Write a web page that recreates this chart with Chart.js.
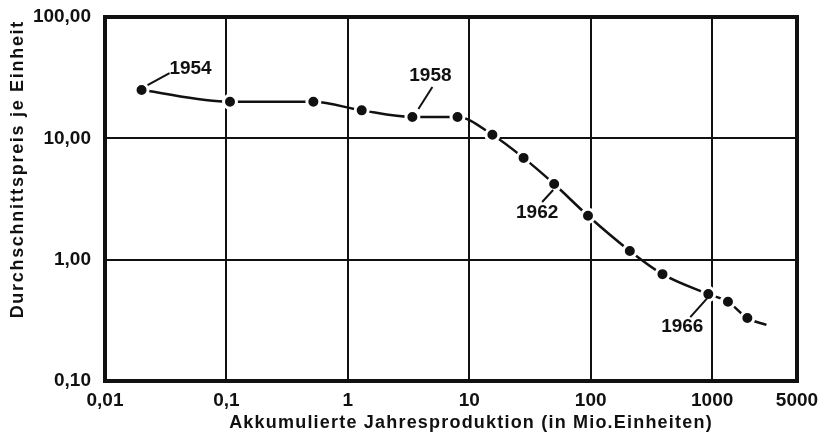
<!DOCTYPE html>
<html>
<head>
<meta charset="utf-8">
<script src="https://cdn.jsdelivr.net/npm/chart.js@4"></script>
<style>
  html, body { margin: 0; padding: 0; background: #fff; }
  #wrap { width: 824px; height: 440px; }
</style>
</head>
<body>
<div id="wrap"><canvas id="chart"></canvas></div>
<script>
// Akkumulierte Produktion (Mio. Einheiten) und Durchschnittspreis je Einheit
const production = [0.02, 0.107, 0.52, 1.3, 3.4, 8, 15.5, 28, 50, 95, 210, 390, 930, 1350, 1950, 2800];
const price = [25, 20, 20, 17, 15, 15, 10.7, 6.9, 4.2, 2.3, 1.18, 0.76, 0.52, 0.45, 0.33, 0.29];

// year labels and the point they belong to
const yearLabels = ["1954", "1958", "1962", "1966"];
const yearIndex = [0, 4, 8, 12];

const xTicks = [0.01, 0.1, 1, 10, 100, 1000, 5000];
const xTickLabels = ["0,01", "0,1", "1", "10", "100", "1000", "5000"];
const yTicks = [0.1, 1, 10, 100];
const yTickLabels = ["0,10", "1,00", "10,00", "100,00"];

const xTitle = "Akkumulierte Jahresproduktion (in Mio.Einheiten)";
const yTitle = "Durchschnittspreis je Einheit";

const INK = "#111";
const FONT = "'Liberation Sans', Arial, sans-serif";

// where each year label sits relative to its dot (pixels)
const labelPlacement = [
  { from: [6, -5], to: [28, -17], text: [49, -21] },
  { from: [6, -8], to: [20, -30], text: [18, -41] },
  { from: [-1, 6], to: [-12, 18], text: [-17, 29] },
  { from: [-1, 4], to: [-18, 23], text: [-26, 33] }
];

const framePlugin = {
  id: "frame",
  beforeDatasetsDraw(chart) {
    const { ctx, chartArea: a } = chart;
    ctx.save();
    ctx.strokeStyle = INK;
    ctx.lineWidth = 4;
    ctx.strokeRect(a.left, a.top, a.right - a.left, a.bottom - a.top);
    ctx.restore();
  }
};

// axis titles are drawn by hand to get the wide letter spacing of the original
const titlePlugin = {
  id: "titles",
  afterDraw(chart) {
    const { ctx, chartArea: a } = chart;
    ctx.save();
    ctx.fillStyle = INK;
    ctx.font = "bold 18px " + FONT;
    ctx.textBaseline = "middle";
    ctx.letterSpacing = "1.2px";
    ctx.textAlign = "center";
    ctx.fillText(xTitle, (a.left + a.right) / 2 + 20, 423);
    ctx.letterSpacing = "1.7px";
    ctx.translate(18, a.top + 3);
    ctx.rotate(-Math.PI / 2);
    ctx.textAlign = "right";
    ctx.fillText(yTitle, 0, 0);
    ctx.restore();
  }
};

const yearPlugin = {
  id: "years",
  afterDatasetsDraw(chart) {
    const { ctx } = chart;
    const pts = chart.getDatasetMeta(0).data;
    ctx.save();
    ctx.strokeStyle = INK;
    ctx.fillStyle = INK;
    ctx.lineWidth = 2;
    ctx.font = "bold 19px " + FONT;
    ctx.textAlign = "center";
    ctx.textBaseline = "middle";
    yearLabels.forEach((txt, i) => {
      const p = pts[yearIndex[i]];
      const pl = labelPlacement[i];
      ctx.beginPath();
      ctx.moveTo(p.x + pl.from[0], p.y + pl.from[1]);
      ctx.lineTo(p.x + pl.to[0], p.y + pl.to[1]);
      ctx.stroke();
      ctx.fillText(txt, p.x + pl.text[0], p.y + pl.text[1]);
    });
    ctx.restore();
  }
};

Chart.defaults.font.family = FONT;
Chart.defaults.color = INK;

new Chart(document.getElementById("chart").getContext("2d"), {
  type: "line",
  data: {
    datasets: [{
      data: production.map((x, i) => ({ x: x, y: price[i] })),
      borderColor: INK,
      borderWidth: 2.5,
      cubicInterpolationMode: "monotone",
      fill: false,
      pointRadius: ctx => ctx.dataIndex < production.length - 1 ? 6.5 : 0,
      pointBackgroundColor: INK,
      pointBorderColor: "#fff",
      pointBorderWidth: 3
    }]
  },
  options: {
    responsive: true,
    maintainAspectRatio: false,
    animation: false,
    layout: { padding: { top: 17, right: 27, left: 0, bottom: 0 } },
    plugins: {
      legend: { display: false },
      tooltip: { enabled: false }
    },
    scales: {
      x: {
        type: "logarithmic",
        min: 0.01,
        max: 5000,
        afterBuildTicks: s => { s.ticks = xTicks.map(v => ({ value: v })); },
        afterFit: s => { s.height = 59; s.paddingLeft = 0; s.paddingRight = 0; },
        ticks: {
          callback: (v, i) => xTickLabels[i],
          font: { size: 19, weight: "bold" },
          padding: 8,
          maxRotation: 0,
          autoSkip: false
        },
        grid: { color: INK, lineWidth: 2, drawTicks: false },
        border: { display: false }
      },
      y: {
        type: "logarithmic",
        min: 0.1,
        max: 100,
        afterBuildTicks: s => { s.ticks = yTicks.map(v => ({ value: v })); },
        afterFit: s => { s.width = 105; s.paddingTop = 0; s.paddingBottom = 0; },
        ticks: {
          callback: (v, i) => yTickLabels[i],
          font: { size: 19, weight: "bold" },
          padding: 14
        },
        grid: { color: INK, lineWidth: 2, drawTicks: false },
        border: { display: false }
      }
    }
  },
  plugins: [framePlugin, yearPlugin, titlePlugin]
});
</script>
</body>
</html>
